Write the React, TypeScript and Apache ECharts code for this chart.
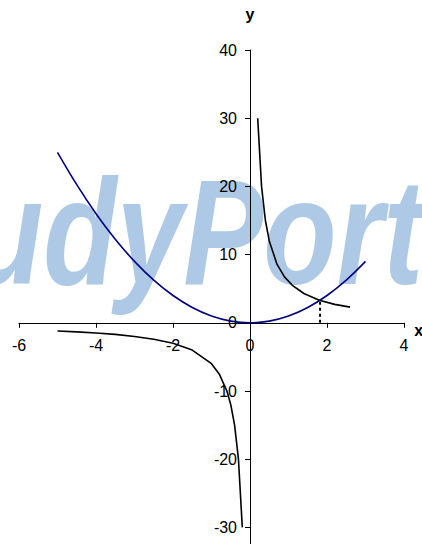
import React, { useEffect, useRef } from "react";
import * as echarts from "echarts";

const xTicks = { min: -6, max: 4, interval: 2 };
const yTicks = { min: -40, max: 40, interval: 10 };

const parabolaX = [-5, -4.5, -4, -3.5, -3, -2.5, -2, -1.5, -1, -0.5, 0, 0.5, 1, 1.5, 2, 2.5, 3];
const parabolaY = [25, 20.25, 16, 12.25, 9, 6.25, 4, 2.25, 1, 0.25, 0, 0.25, 1, 2.25, 4, 6.25, 9];

const hypPosX = [0.2, 0.3, 0.4, 0.5, 0.7, 0.9, 1.1, 1.4, 1.8, 2.2, 2.6];
const hypPosY = [30, 20, 15, 12, 8.6, 6.7, 5.5, 4.3, 3.3, 2.7, 2.3];

const hypNegX = [-5, -4.5, -4, -3.5, -3, -2.5, -2, -1.5, -1, -0.8, -0.6, -0.5, -0.4, -0.3, -0.2];
const hypNegY = [-1.2, -1.33, -1.5, -1.7, -2, -2.4, -3, -4, -6, -7.5, -10, -12, -15, -20, -30];

const dropX = [1.82, 1.82];
const dropY = [0, 3.3];

const pairs = (xs: number[], ys: number[]) => xs.map((x, i) => [x, ys[i]]);

export default function App() {
  const ref = useRef<HTMLDivElement>(null);
  useEffect(() => {
    if (!ref.current) return;
    const chart = echarts.init(ref.current, null, { renderer: "svg" });
    const font = "Liberation Sans, Arial, sans-serif";
    const gridLeft = 19;
    const gridTop = 50;
    const gridW = 385;
    const gridH = 545.6;
    // pixel offsets that put each axis at the other's zero
    const yAxisOffset = -gridW * ((0 - xTicks.min) / (xTicks.max - xTicks.min));
    const xAxisOffset = -gridH * ((0 - yTicks.min) / (yTicks.max - yTicks.min));
    chart.setOption({
      animation: false,
      backgroundColor: "#ffffff",
      graphic: [
        {
          type: "text",
          z: -10,
          x: -150,
          y: 157,
          scaleY: 1.25,
          style: {
            text: "StudyPortals",
            fontSize: 120,
            fontStyle: "italic",
            fontWeight: "bold",
            fontFamily: font,
            fill: "#adc9e6",
            verticalAlign: "top",
          },
        },
      ],
      grid: {
        left: gridLeft,
        top: gridTop,
        width: gridW,
        height: gridH,
        containLabel: false,
        outerBoundsMode: "none",
      },
      xAxis: {
        type: "value",
        position: "bottom",
        offset: xAxisOffset,
        min: xTicks.min,
        max: xTicks.max,
        interval: xTicks.interval,
        name: "x",
        nameLocation: "end",
        nameGap: 9,
        nameTextStyle: { fontFamily: font, fontSize: 16, fontWeight: "bold", color: "#000", verticalAlign: "top" },
        splitLine: { show: false },
        axisLine: { onZero: false, lineStyle: { color: "#000", width: 1 } },
        axisTick: { show: true, length: 5, lineStyle: { color: "#000" } },
        axisLabel: { fontFamily: font, fontSize: 16, color: "#000", margin: 15 },
      },
      yAxis: {
        type: "value",
        position: "left",
        offset: yAxisOffset,
        min: yTicks.min,
        max: yTicks.max,
        interval: yTicks.interval,
        name: "y",
        nameLocation: "end",
        nameGap: 28,
        nameTextStyle: { fontFamily: font, fontSize: 16, fontWeight: "bold", color: "#000" },
        splitLine: { show: false },
        axisLine: { onZero: false, lineStyle: { color: "#000", width: 1 } },
        axisTick: { show: true, length: 5, lineStyle: { color: "#000" } },
        axisLabel: { fontFamily: font, fontSize: 16, color: "#000", margin: 13 },
      },
      series: [
        {
          type: "line",
          data: pairs(parabolaX, parabolaY),
          showSymbol: false,
          smooth: 0.35,
          lineStyle: { color: "#000080", width: 1.6 },
        },
        {
          type: "line",
          data: pairs(hypPosX, hypPosY),
          showSymbol: false,
          lineStyle: { color: "#000000", width: 1.6 },
        },
        {
          type: "line",
          data: pairs(hypNegX, hypNegY),
          showSymbol: false,
          lineStyle: { color: "#000000", width: 1.6 },
        },
        {
          type: "line",
          data: pairs(dropX, dropY),
          showSymbol: false,
          lineStyle: { color: "#000000", width: 2, type: [3, 3] },
        },
      ],
    });
    return () => chart.dispose();
  }, []);
  return (
    <div
      ref={ref}
      style={{ position: "absolute", left: 0, top: 0, width: 422, height: 544 }}
    />
  );
}
